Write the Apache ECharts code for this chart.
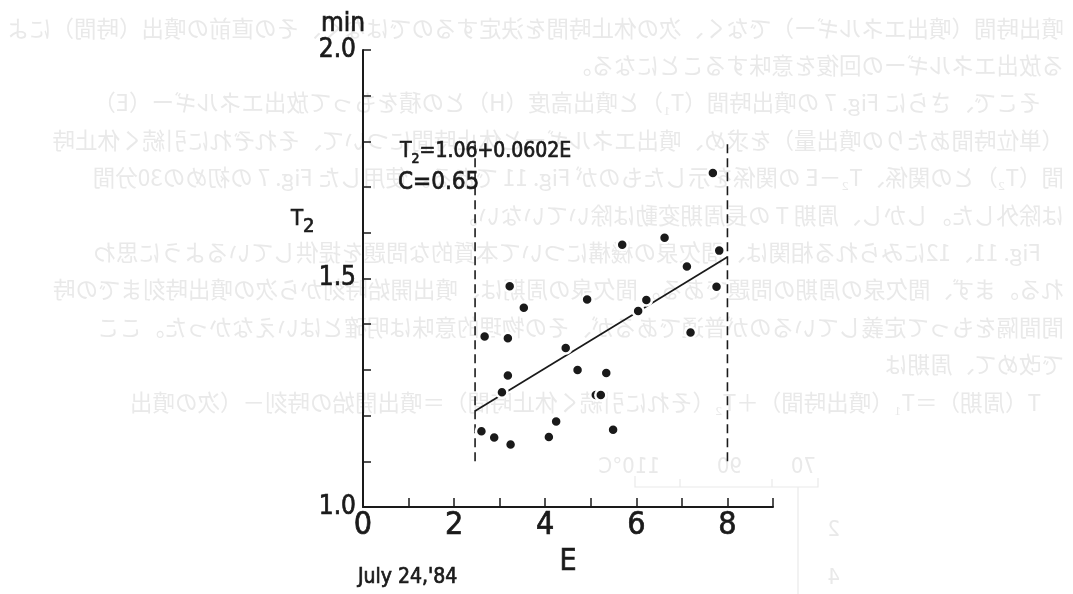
<!DOCTYPE html>
<html>
<head>
<meta charset="utf-8">
<title>T2 - E</title>
<style>
  html, body { margin: 0; padding: 0; background: #fff; }
  #chart { width: 1073px; height: 594px; }
</style>
<script src="https://cdn.jsdelivr.net/npm/echarts@6/dist/echarts.min.js"></script>
</head>
<body>
<div id="chart"></div>
<script>
// 噴出エネルギー E と休止時間 T2 (July 24,'84)
const eValues = [2.60, 2.67, 2.88, 3.05, 3.18, 3.18, 3.22, 3.24, 3.53, 4.08, 4.24, 4.45, 4.71, 4.92,
  5.11, 5.22, 5.34, 5.49, 5.69, 6.04, 6.22, 6.62, 7.11, 7.19, 7.68, 7.76, 7.82];
const t2Values = [1.166, 1.373, 1.152, 1.251, 1.288, 1.369, 1.483, 1.137, 1.436, 1.153, 1.187, 1.348, 1.300, 1.454,
  1.245, 1.245, 1.293, 1.169, 1.574, 1.429, 1.453, 1.589, 1.526, 1.382, 1.731, 1.482, 1.561];
// 回帰直線 T2 = 1.06 + 0.0602E の両端
const fitE = [2.46, 8.0];
const fitT = [1.21, 1.547];
// 破線（範囲）
const boundE = [2.46, 8.0];
const boundT = [1.10, 1.80];
const xTickLabels = ['0', '2', '4', '6', '8'];
const yTickLabels = ['1.0', '1.5', '2.0'];

// 裏写りの文字（うすい）
const ghostLines = [
  '噴出時間（噴出エネルギー）でなく、次の休止時間を決定するのではなく、その直前の噴出（時間）によ',
  'る放出エネルギーの回復を意味することになる。',
  'そこで、さらに Fig. 7 の噴出時間（T₁）と噴出高度（H）との積をもって放出エネルギー（E）',
  '（単位時間あたりの噴出量）を求め、噴出エネルギーと休止時間について、それぞれに引続く休止時',
  '間（T₂）との関係、T₂－E の関係を示したものが Fig. 11 である。使用した Fig. 7 の初めの30分間',
  'は除外した。しかし、周期 T の長周期変動は除いていない。',
  'Fig. 11、12にみられる相関は、間欠泉の機構について本質的な問題を提供しているように思わ',
  'れる。まず、間欠泉の周期の問題である。間欠泉の周期は、噴出開始時刻から次の噴出時刻までの時',
  '間間隔をもって定義しているのが普通であるが、その物理的意味は明確とはいえなかった。ここ',
  'で改めて、周期は',
  'T（周期）＝T₁（噴出時間）＋T₂（それに引続く休止時間）＝噴出開始の時刻－（次の噴出'
];
const ghostIndent = [0, 0, 1, 0, 0, 0, 1, 0, 0, 0, 1];

(function() {
  let myChart = echarts.init(document.getElementById('chart'))
  const ink = '#1a1a1a'
  const ghost = '#e9e9e9'
  const font = "'Liberation Sans Narrow', 'DejaVu Sans Condensed', 'Liberation Sans', sans-serif"
  // 文字を少し太く見せる（軸ラベル用 / graphic 用）
  const thick = { textBorderColor: ink, textBorderWidth: 0.7 }
  const thickG = { stroke: ink, lineWidth: 0.7 }

  let points = eValues.map(function(e, i) { return [e, t2Values[i]] })

  // 裏写りの行
  let ghostText = ghostLines.map(function(s, i) {
    return {
      type: 'text',
      x: 1064 - ghostIndent[i] * 23,
      y: 28 + i * 37.4,
      scaleX: -1,
      z: 0,
      silent: true,
      style: {
        text: s,
        fill: ghost,
        font: '22.5px "Noto Sans CJK JP"',
        align: 'left',
        verticalAlign: 'middle'
      }
    }
  })

  function ghostMark(txt, x, y) {
    return {
      type: 'text', silent: true, z: 0, x: x, y: y, scaleX: -1,
      style: { text: txt, fill: ghost, font: '22px ' + font, align: 'left', verticalAlign: 'middle' }
    }
  }

  function ghostPath(pts) {
    return {
      type: 'polyline', silent: true, z: 0,
      shape: { points: pts },
      style: { stroke: ghost, lineWidth: 1.2, fill: null }
    }
  }

  function label(txt, x, y, size, align) {
    return {
      type: 'text', x: x, y: y, z: 10,
      style: Object.assign({ text: txt, fill: ink, font: size + 'px ' + font, align: align || 'left', verticalAlign: 'middle' }, thickG)
    }
  }

  // T と下付き 2
  function tSub(x, y, size, subSize, drop, rest) {
    return {
      type: 'text', x: x, y: y, z: 10,
      style: {
        text: '{t|T}{s|2}' + (rest ? '{t|' + rest + '}' : ''),
        font: size + 'px ' + font,
        align: 'left',
        verticalAlign: 'middle',
        rich: {
          t: Object.assign({ fontSize: size, fontFamily: font, fill: ink, lineHeight: size, verticalAlign: 'middle' }, thickG),
          s: Object.assign({ fontSize: subSize, fontFamily: font, fill: ink, lineHeight: subSize, verticalAlign: 'top', padding: [drop, 0, 0, 0] }, thickG)
        }
      }
    }
  }

  let option = {
    backgroundColor: '#fff',
    animation: false,
    grid: {
      left: 363,
      right: 300,
      top: 50,
      bottom: 87,
      containLabel: false
    },
    xAxis: {
      type: 'value',
      min: 0,
      max: 9,
      interval: 1,
      name: 'E',
      nameLocation: 'middle',
      nameGap: 27,
      nameTextStyle: Object.assign({ color: ink, fontSize: 30, fontFamily: font }, thick),
      axisLine: { show: true, lineStyle: { color: ink, width: 2 } },
      axisTick: { show: true, inside: true, length: 9, lineStyle: { color: ink, width: 1.5 } },
      splitLine: { show: false },
      axisLabel: Object.assign({
        color: ink,
        fontSize: 32,
        fontFamily: font,
        margin: 3,
        formatter: function(v) {
          return xTickLabels.indexOf(String(v)) >= 0 ? String(v) : ''
        }
      }, thick)
    },
    yAxis: {
      type: 'value',
      min: 1.0,
      max: 2.0,
      interval: 0.1,
      axisLine: { show: true, lineStyle: { color: ink, width: 2 } },
      axisTick: { show: true, inside: true, length: 8, lineStyle: { color: ink, width: 1.5 } },
      splitLine: { show: false },
      axisLabel: Object.assign({
        color: ink,
        fontSize: 26,
        fontFamily: font,
        margin: 7,
        formatter: function(v) {
          let s = v.toFixed(1)
          return yTickLabels.indexOf(s) >= 0 && Math.abs(v - Number(s)) < 1e-6 ? s : ''
        }
      }, thick)
    },
    graphic: ghostText.concat([
      // 裏写りの図の一部
      ghostPath([[635, 476], [635, 487], [818, 487], [818, 478]]),
      ghostPath([[680, 487], [680, 479]]),
      ghostPath([[772, 487], [772, 479]]),
      ghostPath([[798, 487], [798, 594]]),
      ghostMark('110°C', 660, 467),
      ghostMark('90', 742, 467),
      ghostMark('70', 816, 467),
      ghostMark('2', 840, 530),
      ghostMark('4', 840, 578),
      // 軸の単位と名前
      label('min', 343, 24, 26, 'center'),
      tSub(291, 219, 22, 20, 9),
      // 回帰式
      tSub(400, 152, 21, 14, 11, '=1.06+0.0602E'),
      label('C=0.65', 398, 183, 24),
      label("July 24,'84", 358, 578, 21)
    ]),
    series: [
      {
        name: 'range-left',
        type: 'line',
        data: [[boundE[0], boundT[0]], [boundE[0], boundT[1]]],
        symbol: 'none',
        z: 2,
        lineStyle: { color: ink, width: 1.6, type: [9, 5] }
      },
      {
        name: 'range-right',
        type: 'line',
        data: [[boundE[1], boundT[0]], [boundE[1], boundT[1]]],
        symbol: 'none',
        z: 2,
        lineStyle: { color: ink, width: 1.6, type: [9, 5] }
      },
      {
        name: 'fit',
        type: 'line',
        data: [[fitE[0], fitT[0]], [fitE[1], fitT[1]]],
        symbol: 'none',
        z: 2,
        lineStyle: { color: ink, width: 1.7 }
      },
      {
        name: 'T2',
        type: 'scatter',
        data: points,
        symbol: 'circle',
        symbolSize: 11,
        z: 3,
        itemStyle: { color: ink, borderColor: '#fff', borderWidth: 2.5, opacity: 1 }
      }
    ]
  }
  myChart.setOption(option);
  // 大きさ自動調整
  window.addEventListener('resize', function() {
    myChart.resize()
  })
})();
</script>
</body>
</html>
